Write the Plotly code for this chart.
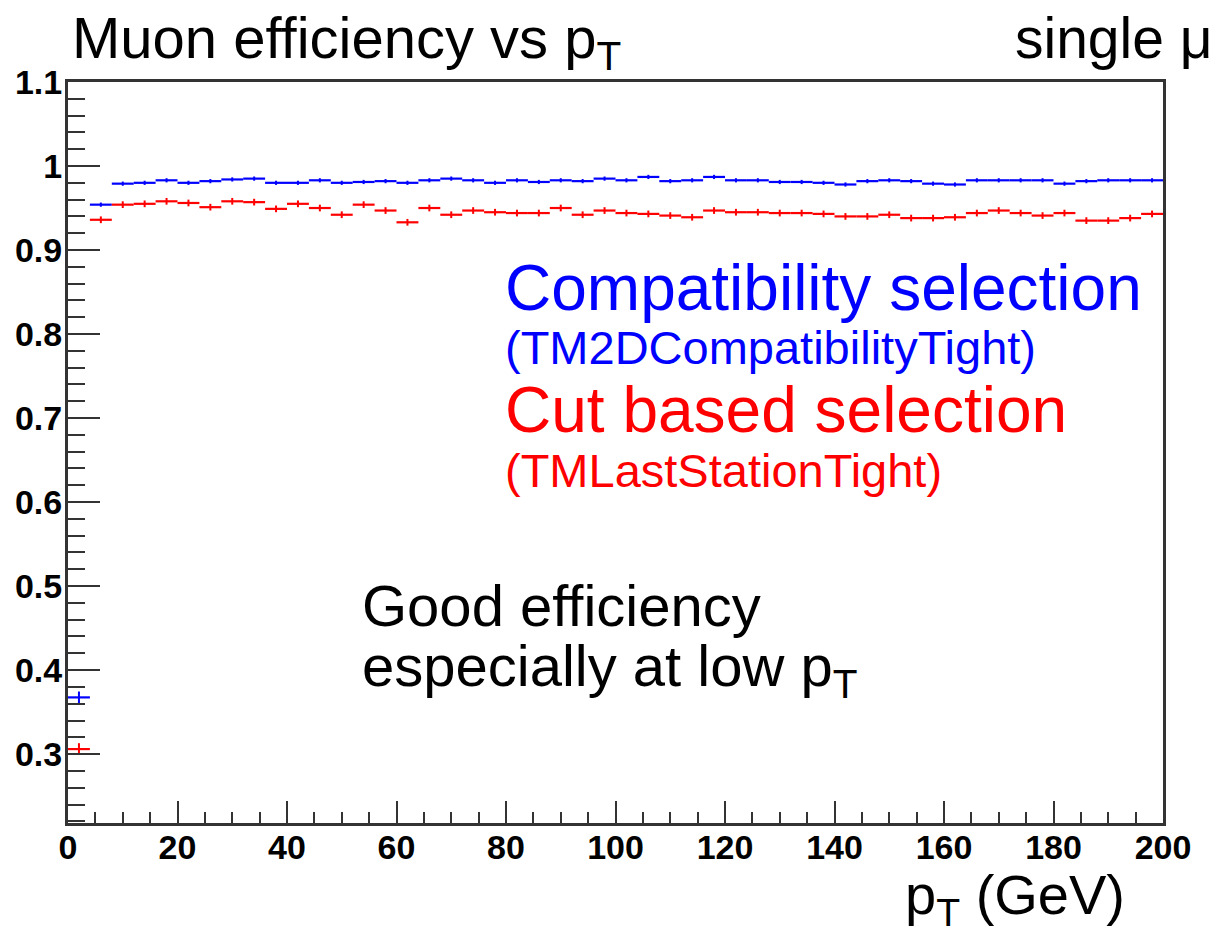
import plotly.graph_objects as go

# bin centres (GeV), 4 GeV wide bins
pt_centers = [2 + 4 * i for i in range(50)]
bin_half_width = [2.0] * 50

eff_compat = [0.3675, 0.954, 0.979, 0.980, 0.983, 0.980, 0.982, 0.984, 0.985, 0.980,
              0.980, 0.983, 0.980, 0.981, 0.982, 0.980, 0.983, 0.985, 0.983, 0.980,
              0.983, 0.981, 0.983, 0.982, 0.985, 0.983, 0.987, 0.982, 0.983, 0.987,
              0.983, 0.983, 0.981, 0.981, 0.980, 0.978, 0.982, 0.983, 0.982, 0.979,
              0.978, 0.983, 0.983, 0.983, 0.983, 0.979, 0.982, 0.983, 0.983, 0.983]
err_compat = [0.007] + [0.0025] * 49

eff_cut = [0.306, 0.936, 0.954, 0.955, 0.958, 0.956, 0.951, 0.958, 0.957, 0.949,
           0.955, 0.950, 0.942, 0.954, 0.947, 0.933, 0.950, 0.942, 0.947, 0.945,
           0.944, 0.944, 0.950, 0.942, 0.947, 0.944, 0.943, 0.941, 0.939, 0.947,
           0.945, 0.945, 0.944, 0.944, 0.943, 0.940, 0.940, 0.942, 0.938, 0.938,
           0.939, 0.944, 0.947, 0.944, 0.941, 0.944, 0.935, 0.935, 0.938, 0.943]
err_cut = [0.007] + [0.004] * 49

x_ticks = [0, 20, 40, 60, 80, 100, 120, 140, 160, 180, 200]
y_ticks = [0.3, 0.4, 0.5, 0.6, 0.7, 0.8, 0.9, 1.0, 1.1]
y_tick_text = ["0.3", "0.4", "0.5", "0.6", "0.7", "0.8", "0.9", "1", "1.1"]

FONT = "Liberation Sans, Arial, Helvetica, sans-serif"
BLUE = "#0000ff"
RED = "#ff0000"

fig = go.Figure()
for y, e, c in [(eff_compat, err_compat, BLUE), (eff_cut, err_cut, RED)]:
    fig.add_trace(go.Scatter(
        x=pt_centers, y=y, mode="markers",
        marker=dict(size=1, color=c),
        error_x=dict(type="data", array=bin_half_width, symmetric=True,
                     color=c, thickness=2.2, width=0),
        error_y=dict(type="data", array=e, symmetric=True,
                     color=c, thickness=2, width=0),
        showlegend=False, hoverinfo="skip",
    ))

axis_common = dict(
    showgrid=False, zeroline=False, showline=True, linecolor="#333333",
    linewidth=3, mirror=True, ticks="inside", tickcolor="#333333", tickwidth=2,
    tickfont=dict(family=FONT, size=34, color="black", weight="bold"),
)
fig.update_xaxes(range=[0, 200], tickvals=x_ticks, ticklen=22,
                 ticklabelstandoff=-8,
                 minor=dict(ticks="inside", dtick=5, tick0=0, ticklen=11,
                            tickcolor="#333333", tickwidth=2),
                 **axis_common)
fig.update_yaxes(range=[0.218, 1.1], tickvals=y_ticks, ticktext=y_tick_text,
                 ticklen=32, ticklabelstandoff=-4,
                 minor=dict(ticks="inside", dtick=0.02, tick0=0, ticklen=17,
                            tickcolor="#333333", tickwidth=2),
                 **axis_common)

L, R, T, B = 68, 60, 82, 115
W, H = 1223, 938
pw, ph = W - L - R, H - T - B

def px(x):
    return (x - L) / pw

def py(y):
    return (H - B - y) / ph

def ann(text, x, y, size, color="black", xanchor="left"):
    fig.add_annotation(text=text, x=px(x), y=py(y), xref="paper", yref="paper",
                       xanchor=xanchor, yanchor="middle", showarrow=False,
                       font=dict(family=FONT, size=size, color=color))

ann("Muon efficiency vs p<sub>T</sub>", 70, 42, 58)
ann("single \u03bc", 1215, 38, 57, xanchor="right")
ann("Compatibility selection", 503, 288, 64, BLUE)
ann("(TM2DCompatibilityTight)", 503, 348, 47, BLUE)
ann("Cut based selection", 503, 410, 64, RED)
ann("(TMLastStationTight)", 503, 470, 47, RED)
ann("Good efficiency", 360, 605, 58)
ann("especially at low p<sub>T</sub>", 360, 670, 58)
ann("p<sub>T</sub> (GeV)", 903, 898, 56)

fig.update_layout(
    width=W, height=H, margin=dict(l=L, r=R, t=T, b=B, pad=0),
    paper_bgcolor="white", plot_bgcolor="white",
    font=dict(family=FONT),
)

fig.write_html("out.html")
